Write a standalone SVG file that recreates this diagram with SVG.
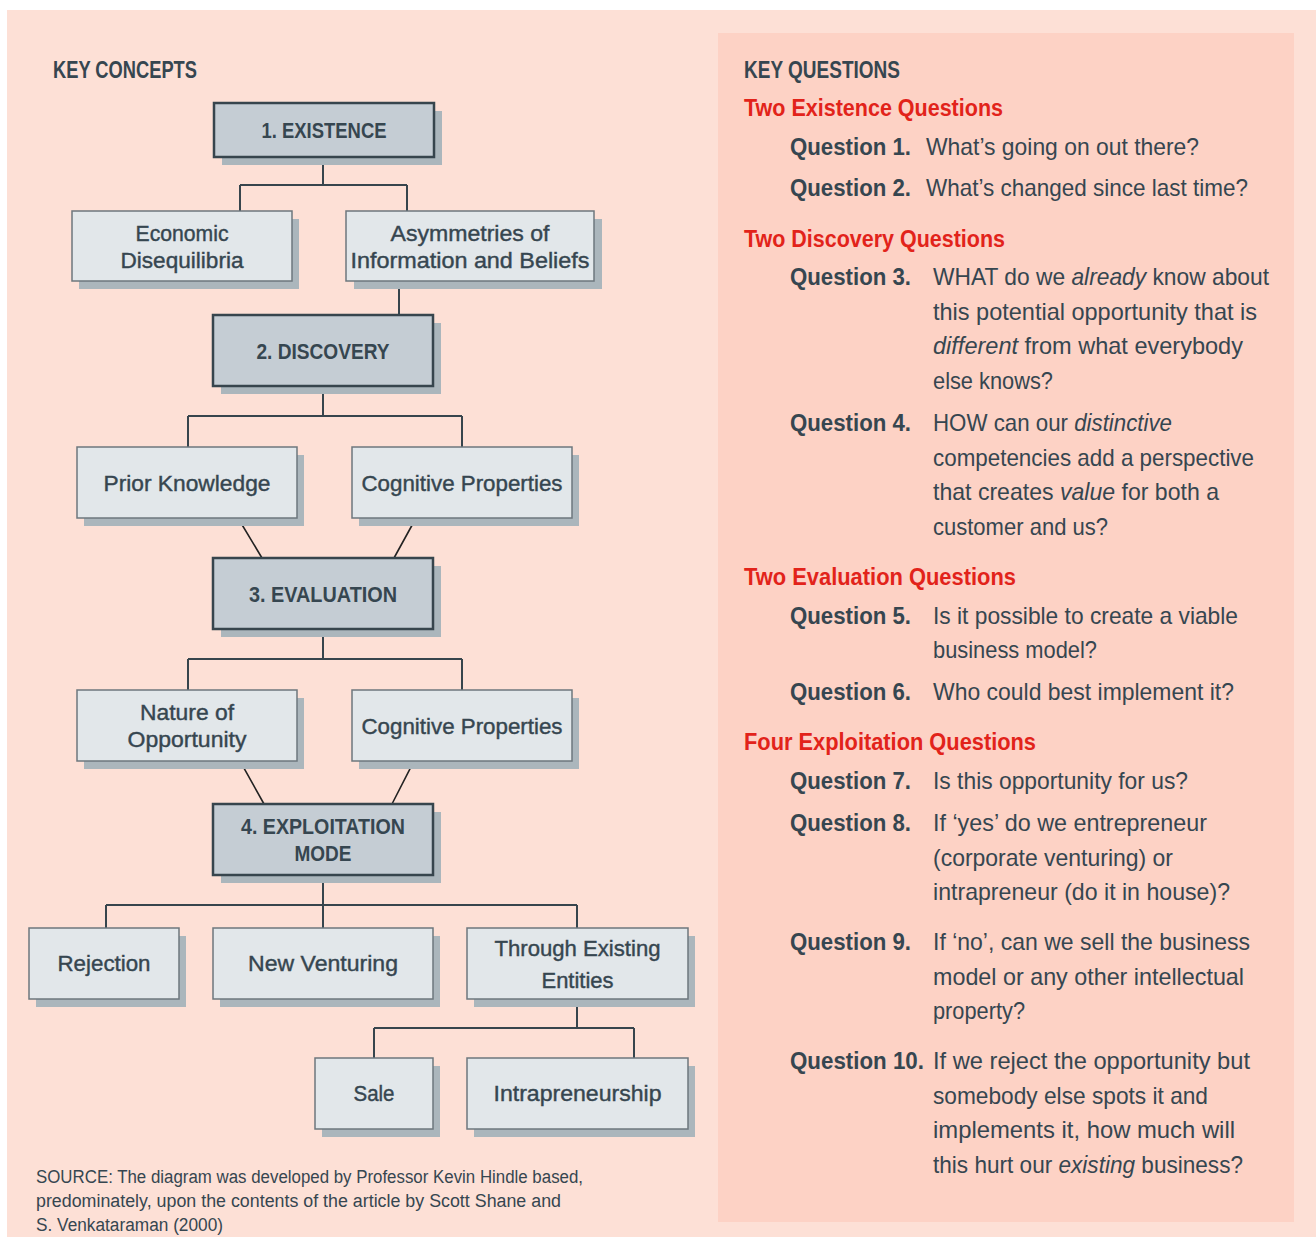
<svg xmlns="http://www.w3.org/2000/svg" width="1316" height="1237" viewBox="0 0 1316 1237">
<style>
text{font-family:"Liberation Sans",Arial,sans-serif;fill:#364650}
.sh{fill:#abb6bc}
.dk{fill:#c5cdd4;stroke:#37454d;stroke-width:2.5}
.lt{fill:#e2e7ea;stroke:#6d777d;stroke-width:1.5}
.lbl{font-size:22px;text-anchor:middle;stroke:#364650;stroke-width:0.4}
.hd{font-size:22px;font-weight:bold;text-anchor:middle}
.conn{stroke:#37454d;stroke-width:2;fill:none}
.diag{stroke:#222;stroke-width:1.6;fill:none}
.title{font-size:23px;font-weight:bold}
.red{font-size:23px;font-weight:bold;fill:#e2231a}
.ql{font-size:23.5px;font-weight:bold}
.qt{font-size:24px}
.src{font-size:18px}
.it{font-style:italic}
</style>
<rect x="0" y="0" width="1316" height="1237" fill="#ffffff"/>
<rect x="7" y="10" width="1309" height="1227" fill="#fde0d6"/>
<rect x="718" y="33" width="576" height="1189" fill="#fdd2c5"/>

<text class="title" x="53" y="78" textLength="144" lengthAdjust="spacingAndGlyphs">KEY CONCEPTS</text>

<g id="connectors">
<path class="conn" d="M323 157V185M240 185H407M240 185V211M407 185V211"/>
<path class="conn" d="M399 281V315"/>
<path class="conn" d="M323 386V416M188 416H462M188 416V447M462 416V447"/>
<path class="diag" d="M238 518L262 558M416 518L394 558"/>
<path class="conn" d="M323 629V659M188 659H462M188 659V690M462 659V690"/>
<path class="diag" d="M240 761L264 804M414 761L392 804"/>
<path class="conn" d="M323 875V905M106 905H577M106 905V928M323 905V928M577 905V928"/>
<path class="conn" d="M577 999V1028M374 1028H634M374 1028V1058M634 1028V1058"/>
</g>

<g id="n-existence">
<rect class="sh" x="222" y="111" width="220" height="54"/>
<rect class="dk" x="214" y="103" width="220" height="54"/>
<text class="hd" x="324" y="138" textLength="125" lengthAdjust="spacingAndGlyphs">1. EXISTENCE</text>
</g>
<g id="n-economic">
<rect class="sh" x="79" y="219" width="220" height="70"/>
<rect class="lt" x="72" y="211" width="220" height="70"/>
<text class="lbl" x="182" y="241" textLength="93" lengthAdjust="spacingAndGlyphs">Economic</text>
<text class="lbl" x="182" y="268" textLength="123" lengthAdjust="spacingAndGlyphs">Disequilibria</text>
</g>
<g id="n-asymmetries">
<rect class="sh" x="354" y="219" width="248" height="70"/>
<rect class="lt" x="346" y="211" width="248" height="70"/>
<text class="lbl" x="470" y="241" textLength="159" lengthAdjust="spacingAndGlyphs">Asymmetries of</text>
<text class="lbl" x="470" y="268" textLength="239" lengthAdjust="spacingAndGlyphs">Information and Beliefs</text>
</g>
<g id="n-discovery">
<rect class="sh" x="221" y="323" width="220" height="71"/>
<rect class="dk" x="213" y="315" width="220" height="71"/>
<text class="hd" x="323" y="359" textLength="133" lengthAdjust="spacingAndGlyphs">2. DISCOVERY</text>
</g>
<g id="n-prior">
<rect class="sh" x="84" y="455" width="220" height="71"/>
<rect class="lt" x="77" y="447" width="220" height="71"/>
<text class="lbl" x="187" y="491" textLength="167" lengthAdjust="spacingAndGlyphs">Prior Knowledge</text>
</g>
<g id="n-cognitive1">
<rect class="sh" x="359" y="455" width="220" height="71"/>
<rect class="lt" x="352" y="447" width="220" height="71"/>
<text class="lbl" x="462" y="491" textLength="201" lengthAdjust="spacingAndGlyphs">Cognitive Properties</text>
</g>
<g id="n-evaluation">
<rect class="sh" x="221" y="566" width="220" height="71"/>
<rect class="dk" x="213" y="558" width="220" height="71"/>
<text class="hd" x="323" y="602" textLength="148" lengthAdjust="spacingAndGlyphs">3. EVALUATION</text>
</g>
<g id="n-nature">
<rect class="sh" x="84" y="698" width="220" height="71"/>
<rect class="lt" x="77" y="690" width="220" height="71"/>
<text class="lbl" x="187" y="720" textLength="94" lengthAdjust="spacingAndGlyphs">Nature of</text>
<text class="lbl" x="187" y="747" textLength="119" lengthAdjust="spacingAndGlyphs">Opportunity</text>
</g>
<g id="n-cognitive2">
<rect class="sh" x="359" y="698" width="220" height="71"/>
<rect class="lt" x="352" y="690" width="220" height="71"/>
<text class="lbl" x="462" y="734" textLength="201" lengthAdjust="spacingAndGlyphs">Cognitive Properties</text>
</g>
<g id="n-exploitation">
<rect class="sh" x="221" y="812" width="220" height="71"/>
<rect class="dk" x="213" y="804" width="220" height="71"/>
<text class="hd" x="323" y="834" textLength="164" lengthAdjust="spacingAndGlyphs">4. EXPLOITATION</text>
<text class="hd" x="323" y="861" textLength="57" lengthAdjust="spacingAndGlyphs">MODE</text>
</g>
<g id="n-rejection">
<rect class="sh" x="36" y="936" width="150" height="71"/>
<rect class="lt" x="29" y="928" width="150" height="71"/>
<text class="lbl" x="104" y="971" textLength="93" lengthAdjust="spacingAndGlyphs">Rejection</text>
</g>
<g id="n-newventuring">
<rect class="sh" x="220" y="936" width="220" height="71"/>
<rect class="lt" x="213" y="928" width="220" height="71"/>
<text class="lbl" x="323" y="971" textLength="150" lengthAdjust="spacingAndGlyphs">New Venturing</text>
</g>
<g id="n-through">
<rect class="sh" x="474" y="936" width="221" height="71"/>
<rect class="lt" x="467" y="928" width="221" height="71"/>
<text class="lbl" x="577.5" y="956" textLength="166" lengthAdjust="spacingAndGlyphs">Through Existing</text>
<text class="lbl" x="577.5" y="988" textLength="72" lengthAdjust="spacingAndGlyphs">Entities</text>
</g>
<g id="n-sale">
<rect class="sh" x="322" y="1066" width="118" height="71"/>
<rect class="lt" x="315" y="1058" width="118" height="71"/>
<text class="lbl" x="374" y="1101" textLength="41" lengthAdjust="spacingAndGlyphs">Sale</text>
</g>
<g id="n-intrapreneurship">
<rect class="sh" x="474" y="1066" width="221" height="71"/>
<rect class="lt" x="467" y="1058" width="221" height="71"/>
<text class="lbl" x="577.5" y="1101" textLength="168" lengthAdjust="spacingAndGlyphs">Intrapreneurship</text>
</g>

<g id="source">
<text class="src" x="36" y="1183" textLength="547" lengthAdjust="spacingAndGlyphs">SOURCE: The diagram was developed by Professor Kevin Hindle based,</text>
<text class="src" x="36" y="1207" textLength="525" lengthAdjust="spacingAndGlyphs">predominately, upon the contents of the article by Scott Shane and</text>
<text class="src" x="36" y="1231" textLength="187" lengthAdjust="spacingAndGlyphs">S. Venkataraman (2000)</text>
</g>

<g id="questions">
<text class="title" x="744" y="78" textLength="156" lengthAdjust="spacingAndGlyphs">KEY QUESTIONS</text>
<text class="red" x="744" y="116" textLength="259" lengthAdjust="spacingAndGlyphs">Two Existence Questions</text>
<text class="ql" x="790" y="155" textLength="121" lengthAdjust="spacingAndGlyphs">Question 1.</text>
<text class="qt" x="926" y="155" textLength="273" lengthAdjust="spacingAndGlyphs">What’s going on out there?</text>
<text class="ql" x="790" y="196" textLength="121" lengthAdjust="spacingAndGlyphs">Question 2.</text>
<text class="qt" x="926" y="196" textLength="322" lengthAdjust="spacingAndGlyphs">What’s changed since last time?</text>

<text class="red" x="744" y="247" textLength="261" lengthAdjust="spacingAndGlyphs">Two Discovery Questions</text>
<text class="ql" x="790" y="285" textLength="121" lengthAdjust="spacingAndGlyphs">Question 3.</text>
<text class="qt" x="933" y="285" textLength="336" lengthAdjust="spacingAndGlyphs">WHAT do we <tspan class="it">already</tspan> know about</text>
<text class="qt" x="933" y="320" textLength="324" lengthAdjust="spacingAndGlyphs">this potential opportunity that is</text>
<text class="qt" x="933" y="354" textLength="310" lengthAdjust="spacingAndGlyphs"><tspan class="it">different</tspan> from what everybody</text>
<text class="qt" x="933" y="389" textLength="120" lengthAdjust="spacingAndGlyphs">else knows?</text>
<text class="ql" x="790" y="431" textLength="121" lengthAdjust="spacingAndGlyphs">Question 4.</text>
<text class="qt" x="933" y="431" textLength="239" lengthAdjust="spacingAndGlyphs">HOW can our <tspan class="it">distinctive</tspan></text>
<text class="qt" x="933" y="466" textLength="321" lengthAdjust="spacingAndGlyphs">competencies add a perspective</text>
<text class="qt" x="933" y="500" textLength="286" lengthAdjust="spacingAndGlyphs">that creates <tspan class="it">value</tspan> for both a</text>
<text class="qt" x="933" y="535" textLength="175" lengthAdjust="spacingAndGlyphs">customer and us?</text>

<text class="red" x="744" y="585" textLength="272" lengthAdjust="spacingAndGlyphs">Two Evaluation Questions</text>
<text class="ql" x="790" y="624" textLength="121" lengthAdjust="spacingAndGlyphs">Question 5.</text>
<text class="qt" x="933" y="624" textLength="305" lengthAdjust="spacingAndGlyphs">Is it possible to create a viable</text>
<text class="qt" x="933" y="658" textLength="164" lengthAdjust="spacingAndGlyphs">business model?</text>
<text class="ql" x="790" y="700" textLength="121" lengthAdjust="spacingAndGlyphs">Question 6.</text>
<text class="qt" x="933" y="700" textLength="301" lengthAdjust="spacingAndGlyphs">Who could best implement it?</text>

<text class="red" x="744" y="750" textLength="292" lengthAdjust="spacingAndGlyphs">Four Exploitation Questions</text>
<text class="ql" x="790" y="789" textLength="121" lengthAdjust="spacingAndGlyphs">Question 7.</text>
<text class="qt" x="933" y="789" textLength="255" lengthAdjust="spacingAndGlyphs">Is this opportunity for us?</text>
<text class="ql" x="790" y="831" textLength="121" lengthAdjust="spacingAndGlyphs">Question 8.</text>
<text class="qt" x="933" y="831" textLength="274" lengthAdjust="spacingAndGlyphs">If ‘yes’ do we entrepreneur</text>
<text class="qt" x="933" y="866" textLength="240" lengthAdjust="spacingAndGlyphs">(corporate venturing) or</text>
<text class="qt" x="933" y="900" textLength="297" lengthAdjust="spacingAndGlyphs">intrapreneur (do it in house)?</text>
<text class="ql" x="790" y="950" textLength="121" lengthAdjust="spacingAndGlyphs">Question 9.</text>
<text class="qt" x="933" y="950" textLength="317" lengthAdjust="spacingAndGlyphs">If ‘no’, can we sell the business</text>
<text class="qt" x="933" y="985" textLength="311" lengthAdjust="spacingAndGlyphs">model or any other intellectual</text>
<text class="qt" x="933" y="1019" textLength="92" lengthAdjust="spacingAndGlyphs">property?</text>
<text class="ql" x="790" y="1069" textLength="134" lengthAdjust="spacingAndGlyphs">Question 10.</text>
<text class="qt" x="933" y="1069" textLength="317" lengthAdjust="spacingAndGlyphs">If we reject the opportunity but</text>
<text class="qt" x="933" y="1104" textLength="275" lengthAdjust="spacingAndGlyphs">somebody else spots it and</text>
<text class="qt" x="933" y="1138" textLength="302" lengthAdjust="spacingAndGlyphs">implements it, how much will</text>
<text class="qt" x="933" y="1173" textLength="310" lengthAdjust="spacingAndGlyphs">this hurt our <tspan class="it">existing</tspan> business?</text>
</g>
</svg>
